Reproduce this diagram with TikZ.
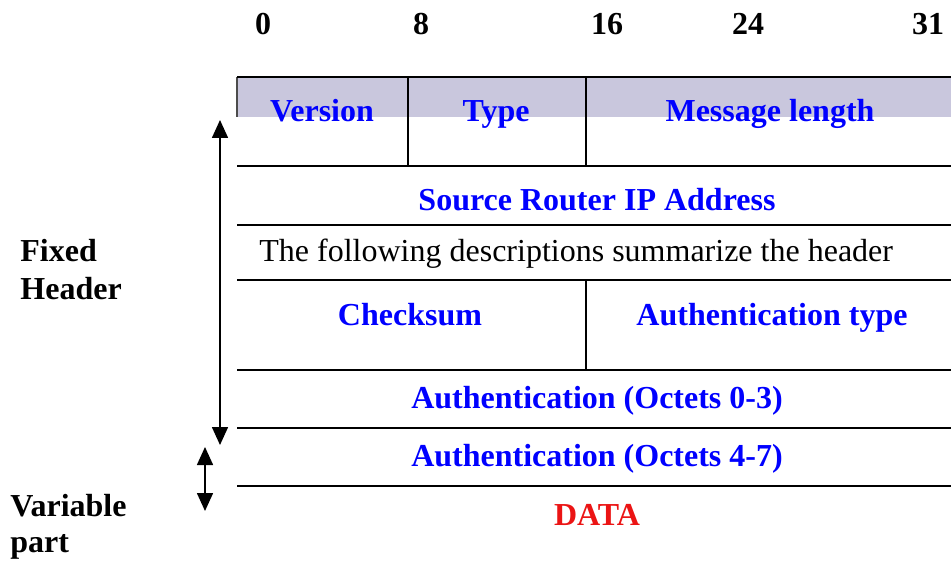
\documentclass[tikz,border=0pt]{standalone}
\usepackage{fontspec}
\setmainfont{Liberation Serif}
\usetikzlibrary{arrows.meta}
\definecolor{bandfill}{RGB}{201,199,221}
\definecolor{fieldblue}{RGB}{0,0,255}
\definecolor{datared}{RGB}{235,20,20}
\begin{document}
\begin{tikzpicture}[x=0.5pt,y=-0.5pt,
  rule/.style={line width=1.3pt},
  field/.style={font=\fontsize{16}{19}\selectfont\bfseries, text=fieldblue, anchor=base, inner sep=0pt},
  plain/.style={font=\fontsize{16}{19}\selectfont, anchor=base west, inner sep=0pt},
  bitnum/.style={font=\fontsize{16}{19}\selectfont\bfseries, anchor=base, inner sep=0pt},
  sidelabel/.style={font=\fontsize{16}{19}\selectfont\bfseries, anchor=base west, inner sep=0pt},
  span/.style={line width=0.8pt, {Triangle[length=9pt,width=8pt]}-{Triangle[length=9pt,width=8pt]}}
]
\useasboundingbox (0,0) rectangle (951,561);
% header band
\fill[bandfill] (237,77) rectangle (951,117);
\draw[line width=0.7pt, black!70] (237,77) -- (237,117);
% bit numbers
\node[bitnum] (b0) at (263,35) {0};
\node[bitnum] (b8) at (421,35) {8};
\node[bitnum] (b16) at (607,35) {16};
\node[bitnum] (b24) at (748,35) {24};
\node[bitnum] (b31) at (928,35) {31};
% horizontal rules
\coordinate (l0a) at (237,77);  \coordinate (l0b) at (951,77);
\coordinate (l1a) at (237,166); \coordinate (l1b) at (951,166);
\coordinate (l2a) at (237,225); \coordinate (l2b) at (951,225);
\coordinate (l3a) at (237,280); \coordinate (l3b) at (951,280);
\coordinate (l4a) at (237,370); \coordinate (l4b) at (951,370);
\coordinate (l5a) at (237,428); \coordinate (l5b) at (951,428);
\coordinate (l6a) at (237,486); \coordinate (l6b) at (951,486);
\foreach \i in {0,...,6} {\draw[rule] (l\i a) -- (l\i b);}
% vertical dividers
\draw[rule] (408,77) -- (408,166);
\draw[rule] (586,77) -- (586,166);
\draw[rule] (586,280) -- (586,370);
% fields
\node[field] (ver) at (322,122) {Version};
\node[field] (typ) at (496,122) {Type};
\node[field] (len) at (770,122) {Message length};
\node[field] (src) at (597,211) {Source Router IP Address};
\node[plain] (desc) at (259,261) {The following descriptions summarize the header};
\node[field] (chk) at (410,325) {Checksum};
\node[field] (aut) at (772,325) {Authentication type};
\node[field] (a03) at (597,408) {Authentication (Octets 0-3)};
\node[field] (a47) at (597,466) {Authentication (Octets 4-7)};
\node[field, text=datared] (data) at (597,525) {DATA};
% side labels
\node[sidelabel] (fix1) at (20,261) {Fixed};
\node[sidelabel] (fix2) at (20,299) {Header};
\node[sidelabel] (var1) at (10,516) {Variable};
\node[sidelabel] (var2) at (10,552) {part};
% span arrows
\coordinate (fa) at (220,120);
\coordinate (fb) at (220,445);
\coordinate (va) at (205,447);
\coordinate (vb) at (205,511);
\draw[span] (fa) -- (fb);
\draw[span] (va) -- (vb);
\end{tikzpicture}
\end{document}
